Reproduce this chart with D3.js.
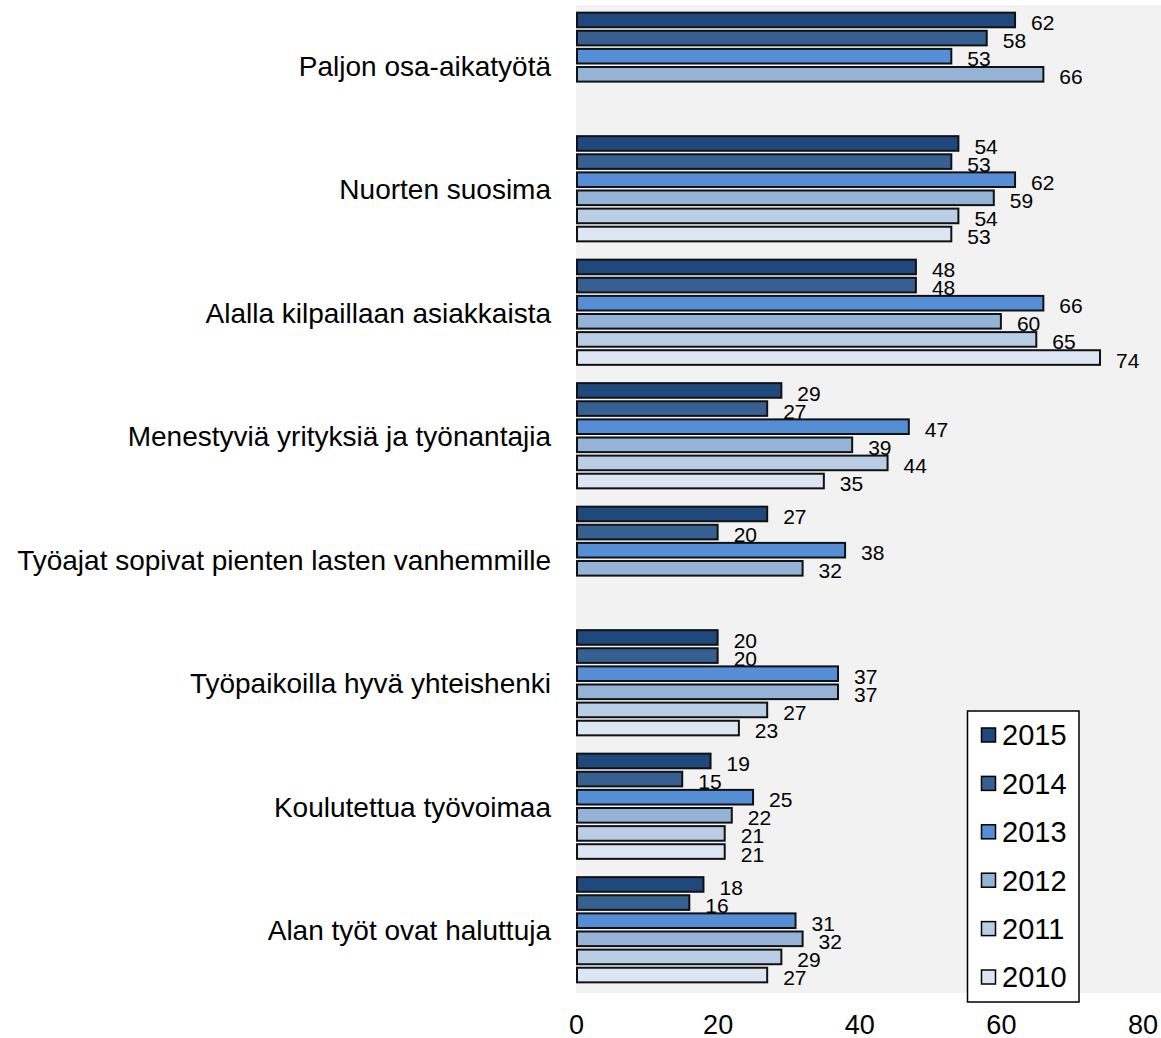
<!DOCTYPE html>
<html>
<head>
<meta charset="utf-8">
<script src="https://cdn.jsdelivr.net/npm/d3@7"></script>
<style>
  html, body { margin: 0; padding: 0; background: #fff; }
  svg text { font-family: "Liberation Sans", Arial, sans-serif; fill: #000; }
</style>
</head>
<body>
<svg id="chart" width="1161" height="1038"></svg>
<script>
const categories = [
  "Paljon osa-aikatyötä",
  "Nuorten suosima",
  "Alalla kilpaillaan asiakkaista",
  "Menestyviä yrityksiä ja työnantajia",
  "Työajat sopivat pienten lasten vanhemmille",
  "Työpaikoilla hyvä yhteishenki",
  "Koulutettua työvoimaa",
  "Alan työt ovat haluttuja"
];
const years = ["2015", "2014", "2013", "2012", "2011", "2010"];
const values2015 = [62, 54, 48, 29, 27, 20, 19, 18];
const values2014 = [58, 53, 48, 27, 20, 20, 15, 16];
const values2013 = [53, 62, 66, 47, 38, 37, 25, 31];
const values2012 = [66, 59, 60, 39, 32, 37, 22, 32];
const values2011 = [null, 54, 65, 44, null, 27, 21, 29];
const values2010 = [null, 53, 74, 35, null, 23, 21, 27];
const xTicks = [0, 20, 40, 60, 80];
const colors = ["#1F497D", "#366092", "#558ED5", "#95B3D7", "#B9CDE5", "#DCE6F2"];

const seriesValues = [values2015, values2014, values2013, values2012, values2011, values2010];

const svg = d3.select("#chart");

const x = d3.scaleLinear().domain([0, 80]).range([576, 1142.5]);
const y = d3.scaleBand().domain(categories).range([4, 992]).paddingInner(0.12).paddingOuter(0.06);
const ySub = d3.scaleBand().domain(years).range([0, y.bandwidth()]);

// plot background
svg.append("rect")
  .attr("x", 576).attr("y", 5)
  .attr("width", 1161 - 576).attr("height", 988)
  .attr("fill", "#F2F2F2");

// data rows
const rows = [];
categories.forEach((c, ci) => {
  years.forEach((yr, yi) => {
    const v = seriesValues[yi][ci];
    if (v !== null) rows.push({ cat: c, year: yr, yi, value: v });
  });
});

const gBars = svg.append("g");
gBars.selectAll("rect")
  .data(rows)
  .enter().append("rect")
  .attr("x", x(0) + 1)
  .attr("y", d => y(d.cat) + ySub(d.year) + 1.25)
  .attr("width", d => x(d.value) - x(0) - 1)
  .attr("height", ySub.bandwidth() - 3.5)
  .attr("fill", d => colors[d.yi])
  .attr("stroke", "#111")
  .attr("stroke-width", 2);

gBars.selectAll("text")
  .data(rows)
  .enter().append("text")
  .attr("x", d => x(d.value) + 16)
  .attr("y", d => y(d.cat) + ySub(d.year) + ySub.bandwidth() / 2 + 2)
  .attr("dy", "0.36em")
  .attr("font-size", 21)
  .text(d => d.value);

// category labels
const yAxis = d3.axisLeft(y).tickSize(0).tickPadding(0);
const gy = svg.append("g").attr("transform", "translate(551,0)").call(yAxis);
gy.select(".domain").remove();
gy.selectAll("text")
  .attr("font-size", 28)
  .attr("font-family", "Liberation Sans, Arial, sans-serif")
  .attr("fill", "#000")
  .attr("dy", "0.36em");

// x axis
const xAxis = d3.axisBottom(x).tickValues(xTicks).tickSize(0).tickPadding(0).tickFormat(d3.format("d"));
const gx = svg.append("g").attr("transform", "translate(0,1034)").call(xAxis);
gx.select(".domain").remove();
gx.selectAll("text")
  .attr("font-size", 27)
  .attr("font-family", "Liberation Sans, Arial, sans-serif")
  .attr("fill", "#000")
  .attr("dy", 0)
  .attr("y", 0);

// legend
const legend = svg.append("g");
legend.append("rect")
  .attr("x", 967.5).attr("y", 711)
  .attr("width", 111.5).attr("height", 291)
  .attr("fill", "#fff")
  .attr("stroke", "#000")
  .attr("stroke-width", 1.5);
const ly = d3.scalePoint().domain(years).range([735, 977]);
const items = legend.selectAll("g.item").data(years).enter().append("g").attr("class", "item");
items.append("rect")
  .attr("x", 981.5).attr("y", d => ly(d) - 7)
  .attr("width", 14).attr("height", 14)
  .attr("fill", (d, i) => colors[i])
  .attr("stroke", "#000").attr("stroke-width", 1.5);
items.append("text")
  .attr("x", 1002).attr("y", d => ly(d))
  .attr("dy", "0.36em")
  .attr("font-size", 29)
  .text(d => d);
</script>
</body>
</html>
